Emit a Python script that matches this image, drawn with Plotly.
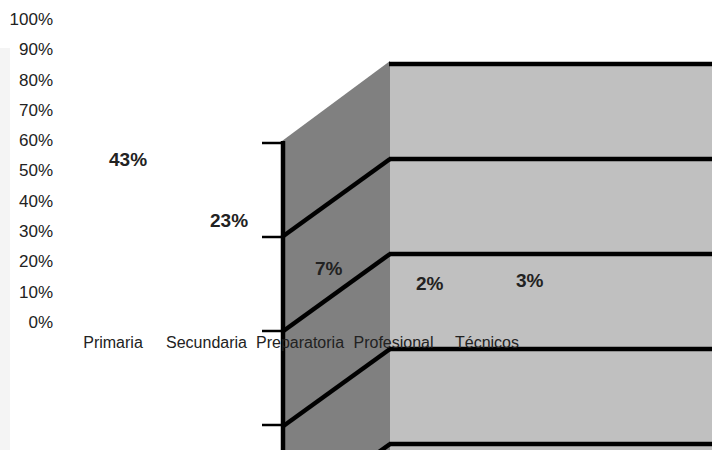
import plotly.graph_objects as go

categories = ["Primaria", "Secundaria", "Preparatoria", "Profesional", "Técnicos"]
values = [0.43, 0.23, 0.07, 0.02, 0.03]
value_labels = ["43%", "23%", "7%", "2%", "3%"]
y_ticks = [0, 0.1, 0.2, 0.3, 0.4, 0.5, 0.6, 0.7, 0.8, 0.9, 1.0]

W, H = 712, 450


def px(x):
    return x / W


def py(y):
    return 1 - y / H


FONT = "Liberation Sans, Arial, sans-serif"
TXT = "#222222"

fig = go.Figure()
# invisible bars (the chart shows only labels)
fig.add_trace(go.Bar(x=categories, y=values,
                     marker=dict(color="rgba(0,0,0,0)", line=dict(width=0)),
                     hoverinfo="skip", showlegend=False, xaxis="x", yaxis="y"))
# helper trace for category axis labels
fig.add_trace(go.Scatter(x=categories, y=values, mode="markers",
                         marker=dict(opacity=0), hoverinfo="skip",
                         showlegend=False, xaxis="x2", yaxis="y"))

for c, v, t in zip(categories, values, value_labels):
    fig.add_annotation(x=c, y=v, xref="x", yref="y", text=f"<b>{t}</b>",
                       showarrow=False, yshift=32,
                       font=dict(family=FONT, size=19, color=TXT))

# decorative 3D walls
shapes = []
shapes.append(dict(type="rect", xref="paper", yref="paper", layer="below",
                   x0=px(0), x1=px(10), y0=py(450), y1=py(48),
                   fillcolor="#f4f4f4", line=dict(width=0)))
shapes.append(dict(type="path", xref="paper", yref="paper", layer="below",
                   path=f"M {px(282)} {py(141)} L {px(390)} {py(61)} L {px(390)} {py(450)} L {px(282)} {py(450)} Z",
                   fillcolor="#808080", line=dict(width=0)))
shapes.append(dict(type="rect", xref="paper", yref="paper", layer="below",
                   x0=px(390), x1=px(712), y0=py(450), y1=py(62),
                   fillcolor="#c0c0c0", line=dict(width=0)))
line_style = dict(color="#000000", width=4.5)
wall_lines = [64, 159, 254, 349, 444]
for i, yy in enumerate(wall_lines):
    shapes.append(dict(type="line", xref="paper", yref="paper", layer="below",
                       x0=px(389), x1=px(712), y0=py(yy), y1=py(yy), line=line_style))
    if i > 0:
        shapes.append(dict(type="line", xref="paper", yref="paper", layer="below",
                           x0=px(282), x1=px(390), y0=py(yy + 78), y1=py(yy), line=line_style))
shapes.append(dict(type="line", xref="paper", yref="paper", layer="below",
                   x0=px(283), x1=px(283), y0=py(141), y1=py(450), line=line_style))
for yy in [143, 237, 331, 425]:
    shapes.append(dict(type="line", xref="paper", yref="paper", layer="below",
                       x0=px(262), x1=px(283), y0=py(yy), y1=py(yy),
                       line=dict(color="#000000", width=2.5)))

fig.update_layout(
    width=W, height=H,
    margin=dict(l=0, r=0, t=0, b=0, pad=0, autoexpand=False),
    paper_bgcolor="white", plot_bgcolor="rgba(0,0,0,0)",
    shapes=shapes,
    showlegend=False,
    bargap=0.3,
    xaxis=dict(domain=[px(77.75), px(580.5)], range=[-0.5, 4.5], type="category",
               categoryarray=categories, showticklabels=False, showgrid=False,
               zeroline=False, showline=False, ticks="", automargin=False),
    xaxis2=dict(domain=[px(66.25), px(533.75)], range=[-0.5, 4.5], type="category",
                categoryarray=categories, anchor="y", showgrid=False, zeroline=False,
                showline=False, ticks="", ticklabelstandoff=9, automargin=False,
                tickfont=dict(family=FONT, size=16, color=TXT)),
    yaxis=dict(domain=[py(322), py(19)], range=[0, 1], tickvals=y_ticks,
               tickformat=".0%", anchor="free", position=px(53), showgrid=False,
               zeroline=False, showline=False, ticks="", automargin=False,
               tickfont=dict(family=FONT, size=17, color=TXT)),
)

fig.write_html(
    "out.html",
    config={"displayModeBar": False},
    post_script="document.body.style.margin='0';document.body.style.overflow='hidden';",
)
